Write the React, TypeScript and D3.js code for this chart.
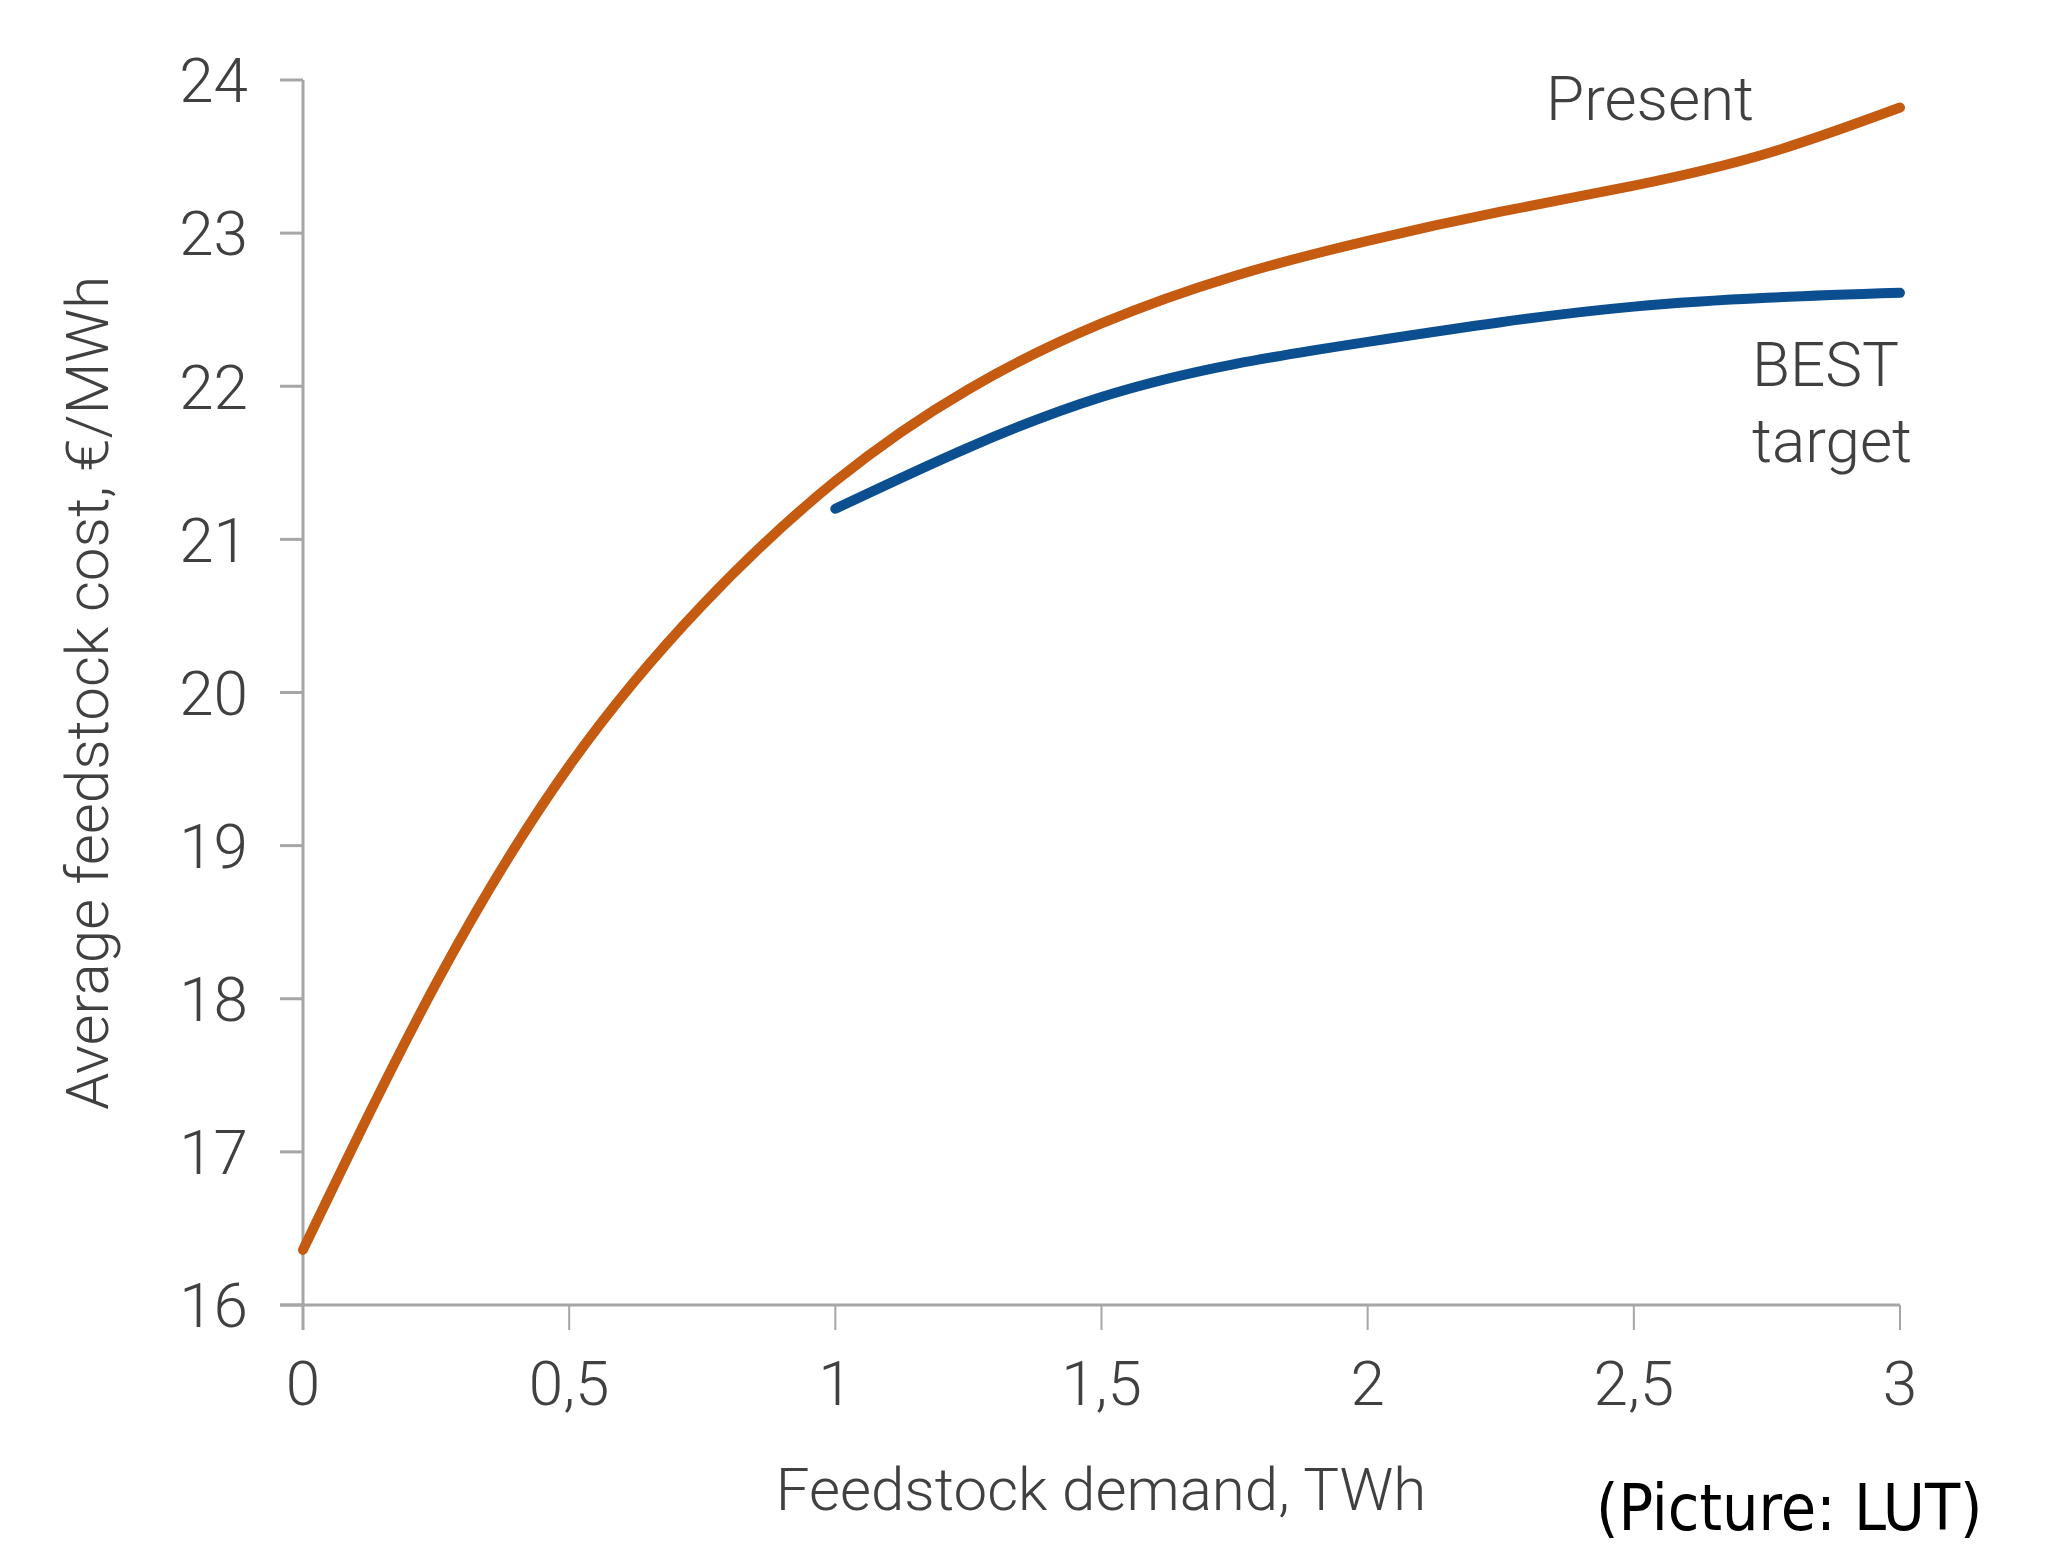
import * as d3 from 'd3';

// demand, TWh
const presentX = [0, 0.25, 0.5, 0.75, 1.0, 1.25, 1.5, 1.75, 2.0, 2.25, 2.5, 2.75, 3.0];
// average feedstock cost, €/MWh
const presentY = [16.36, 18.1, 19.52, 20.57, 21.38, 21.98, 22.41, 22.72, 22.95, 23.14, 23.31, 23.52, 23.82];

const bestX = [1.0, 1.5, 2.0, 2.5, 3.0];
const bestY = [21.2, 21.93, 22.29, 22.52, 22.61];

const xTicks = [0, 0.5, 1, 1.5, 2, 2.5, 3];
const yTicks = [16, 17, 18, 19, 20, 21, 22, 23, 24];

const W = 2048;
const H = 1549;
const FONT = 'Roboto, "Open Sans", sans-serif';
const TEXT = '#404040';
const AXIS = '#a6a6a6';

export default function App() {
  const x = d3.scaleLinear().domain([0, 3]).range([303, 1900]);
  const y = d3.scaleLinear().domain([16, 24]).range([1305, 80]);

  // smooth spline through the read-off points
  const line = d3.line<[number, number]>()
    .x(d => x(d[0]))
    .y(d => y(d[1]))
    .curve(d3.curveNatural);

  const present = presentX.map((v, i) => [v, presentY[i]] as [number, number]);
  const best = bestX.map((v, i) => [v, bestY[i]] as [number, number]);
  const fmt = (v: number) => String(v).replace('.', ',');

  return (
    <svg width={W} height={H} style={{ position: 'absolute', left: 0, top: 0, background: '#fff' }}>
      {/* axes */}
      <line x1={x(0)} x2={x(0)} y1={y(24)} y2={y(16) + 25} stroke={AXIS} strokeWidth={3} />
      <line x1={x(0) - 23} x2={x(3)} y1={y(16)} y2={y(16)} stroke={AXIS} strokeWidth={3} />
      {yTicks.map(t => (
        <g key={'y' + t}>
          <line x1={x(0) - 23} x2={x(0)} y1={y(t)} y2={y(t)} stroke={AXIS} strokeWidth={3} />
          <text x={248} y={y(t)} dy="0.36em" textAnchor="end" fontFamily={FONT} fontWeight={300}
            fontSize={62} fill={TEXT}>{t}</text>
        </g>
      ))}
      {xTicks.map(t => (
        <g key={'x' + t}>
          <line x1={x(t)} x2={x(t)} y1={y(16)} y2={y(16) + 25} stroke={AXIS} strokeWidth={2} />
          <text x={x(t)} y={1405} textAnchor="middle" fontFamily={FONT} fontWeight={300}
            fontSize={62} fill={TEXT}>{fmt(t)}</text>
        </g>
      ))}
      <text transform={`translate(108,693) rotate(-90)`} textAnchor="middle" fontFamily={FONT}
        fontWeight={300} fontSize={60} fill={TEXT}>Average feedstock cost, €/MWh</text>
      <text x={1101} y={1510} textAnchor="middle" fontFamily={FONT} fontWeight={300}
        fontSize={60} fill={TEXT}>Feedstock demand, TWh</text>

      {/* series */}
      <path d={line(present) ?? ''} fill="none" stroke="#c55a11" strokeWidth={10} strokeLinecap="round" />
      <path d={line(best) ?? ''} fill="none" stroke="#0b4f91" strokeWidth={10} strokeLinecap="round" />

      {/* labels */}
      <text x={1546} y={120} fontFamily={FONT} fontWeight={300} fontSize={62} fill={TEXT}>Present</text>
      <text x={1752} y={386} fontFamily={FONT} fontWeight={300} fontSize={62} fill={TEXT}>BEST</text>
      <text x={1752} y={462} fontFamily={FONT} fontWeight={300} fontSize={62} fill={TEXT}>target</text>

      <text x={1596} y={1530} fontFamily='"Liberation Sans Narrow", "DejaVu Sans Condensed", sans-serif'
        fontSize={64} fill="#000">(Picture: LUT)</text>
    </svg>
  );
}
